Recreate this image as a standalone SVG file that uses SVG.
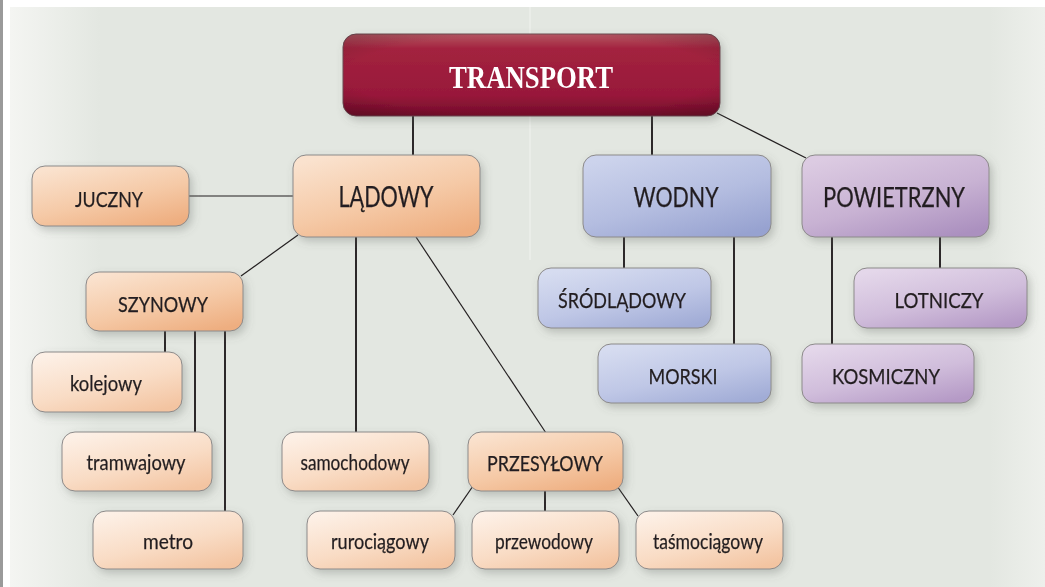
<svg xmlns="http://www.w3.org/2000/svg" width="1045" height="587" viewBox="0 0 1045 587">
<style>
.t{font-family:Lato,"Liberation Sans",sans-serif;fill:#231f20;stroke:#231f20;stroke-width:0.25;text-anchor:middle}
.box{stroke:#8c8a8a;stroke-width:1}
.v{stroke:#231f20;stroke-width:1.9;fill:none}
.d{stroke:#231f20;stroke-width:1.2;fill:none}
</style>
<defs>
<linearGradient id="bgL" x1="0" y1="0" x2="1" y2="0">
<stop offset="0" stop-color="#f4f5f2"/><stop offset="1" stop-color="#e3e7e1"/>
</linearGradient>
<linearGradient id="bgR" x1="0" y1="0" x2="1" y2="0">
<stop offset="0" stop-color="#e3e7e1"/><stop offset="1" stop-color="#eef0ec"/>
</linearGradient>
<linearGradient id="gRed" x1="0" y1="0" x2="0" y2="1">
<stop offset="0" stop-color="#b45662"/><stop offset="0.18" stop-color="#a3233f"/><stop offset="0.75" stop-color="#98183a"/><stop offset="1" stop-color="#720c2a"/>
</linearGradient>
<radialGradient id="gRedEdge" cx="0.5" cy="0.5" r="0.7">
<stop offset="0.7" stop-color="#000" stop-opacity="0"/><stop offset="1" stop-color="#000" stop-opacity="0.18"/>
</radialGradient>
<linearGradient id="gO1" x1="0.2" y1="0" x2="0.8" y2="1">
<stop offset="0" stop-color="#fae2ce"/><stop offset="0.55" stop-color="#f5c9a6"/><stop offset="1" stop-color="#eeae80"/>
</linearGradient>
<linearGradient id="gO2" x1="0.2" y1="0" x2="0.8" y2="1">
<stop offset="0" stop-color="#fdf0e6"/><stop offset="0.55" stop-color="#f9dcc5"/><stop offset="1" stop-color="#f3c4a1"/>
</linearGradient>
<linearGradient id="gB1" x1="0.2" y1="0" x2="0.8" y2="1">
<stop offset="0" stop-color="#ccd3ec"/><stop offset="0.55" stop-color="#b4bde0"/><stop offset="1" stop-color="#97a2d0"/>
</linearGradient>
<linearGradient id="gB2" x1="0.2" y1="0" x2="0.8" y2="1">
<stop offset="0" stop-color="#d6dcf0"/><stop offset="0.55" stop-color="#bfc7e6"/><stop offset="1" stop-color="#a1acd6"/>
</linearGradient>
<linearGradient id="gP1" x1="0.2" y1="0" x2="0.8" y2="1">
<stop offset="0" stop-color="#dccbe2"/><stop offset="0.55" stop-color="#c8b2d3"/><stop offset="1" stop-color="#ab90bf"/>
</linearGradient>
<linearGradient id="gP2" x1="0.2" y1="0" x2="0.8" y2="1">
<stop offset="0" stop-color="#e4d7ea"/><stop offset="0.55" stop-color="#d0bddb"/><stop offset="1" stop-color="#b59ac6"/>
</linearGradient>
<filter id="sh" x="-20%" y="-20%" width="150%" height="160%">
<feDropShadow dx="3" dy="4" stdDeviation="4" flood-color="#5a6058" flood-opacity="0.3"/>
</filter>
</defs>

<rect x="0" y="0" width="1045" height="587" fill="#ffffff"/>
<rect x="0" y="0" width="3" height="587" fill="#9a9a9a"/>
<rect x="10" y="7" width="1035" height="580" fill="#e3e7e1"/>
<rect x="10" y="7" width="90" height="580" fill="url(#bgL)"/>
<rect x="990" y="7" width="55" height="580" fill="url(#bgR)"/>
<line x1="530" y1="7" x2="530" y2="260" stroke="#ffffff" stroke-opacity="0.35" stroke-width="1.5"/>

<g id="connectors">
<line class="v" x1="413" y1="116" x2="413" y2="156"/>
<line class="v" x1="652" y1="116" x2="652" y2="156"/>
<line class="d" x1="717" y1="113" x2="806" y2="158"/>
<line class="d" x1="189" y1="196" x2="293" y2="196"/>
<line class="d" x1="298" y1="235" x2="241" y2="276"/>
<line class="v" x1="356" y1="237" x2="356" y2="433"/>
<line class="d" x1="416" y1="237" x2="546" y2="433"/>
<line class="v" x1="165" y1="331" x2="165" y2="353"/>
<line class="v" x1="195" y1="331" x2="195" y2="433"/>
<line class="v" x1="225" y1="331" x2="225" y2="512"/>
<line class="d" x1="473" y1="486" x2="453" y2="515"/>
<line class="v" x1="545" y1="491" x2="545" y2="512"/>
<line class="d" x1="617" y1="486" x2="638" y2="516"/>
<line class="v" x1="624" y1="237" x2="624" y2="269"/>
<line class="v" x1="734" y1="237" x2="734" y2="345"/>
<line class="v" x1="832" y1="237" x2="832" y2="345"/>
<line class="v" x1="940" y1="237" x2="940" y2="269"/>
</g>

<g id="transport" filter="url(#sh)">
<rect x="343" y="34" width="377" height="82" rx="13" fill="url(#gRed)" stroke="#6e4a52" stroke-width="1"/>
<rect x="343" y="34" width="377" height="82" rx="13" fill="url(#gRedEdge)"/>
<text x="531" y="88" font-family="'Liberation Serif',serif" font-weight="bold" font-size="32" fill="#ffffff" text-anchor="middle" textLength="164" lengthAdjust="spacingAndGlyphs">TRANSPORT</text>
</g>

<g id="ladowy" filter="url(#sh)">
<rect class="box" x="293" y="155" width="187" height="82" rx="13" fill="url(#gO1)"/>
<text class="t" x="386" y="207" font-size="28" textLength="95" lengthAdjust="spacingAndGlyphs">LĄDOWY</text>
</g>
<g id="juczny" filter="url(#sh)">
<rect class="box" x="32" y="166" width="157" height="60" rx="13" fill="url(#gO1)"/>
<text class="t" x="109" y="207" font-size="22" textLength="68" lengthAdjust="spacingAndGlyphs">JUCZNY</text>
</g>
<g id="szynowy" filter="url(#sh)">
<rect class="box" x="86" y="272" width="157" height="59" rx="13" fill="url(#gO1)"/>
<text class="t" x="163" y="312" font-size="22" textLength="90" lengthAdjust="spacingAndGlyphs">SZYNOWY</text>
</g>
<g id="kolejowy" filter="url(#sh)">
<rect class="box" x="32" y="352" width="150" height="60" rx="13" fill="url(#gO2)"/>
<text class="t" x="106" y="391" font-size="22" textLength="72" lengthAdjust="spacingAndGlyphs">kolejowy</text>
</g>
<g id="tramwajowy" filter="url(#sh)">
<rect class="box" x="62" y="432" width="150" height="59" rx="13" fill="url(#gO2)"/>
<text class="t" x="136" y="470" font-size="22" textLength="99" lengthAdjust="spacingAndGlyphs">tramwajowy</text>
</g>
<g id="metro" filter="url(#sh)">
<rect class="box" x="93" y="511" width="150" height="58" rx="13" fill="url(#gO2)"/>
<text class="t" x="168" y="549" font-size="22" textLength="50" lengthAdjust="spacingAndGlyphs">metro</text>
</g>
<g id="samochodowy" filter="url(#sh)">
<rect class="box" x="282" y="432" width="147" height="59" rx="13" fill="url(#gO2)"/>
<text class="t" x="355" y="470" font-size="22" textLength="109" lengthAdjust="spacingAndGlyphs">samochodowy</text>
</g>
<g id="przesylowy" filter="url(#sh)">
<rect class="box" x="468" y="432" width="155" height="59" rx="13" fill="url(#gO1)"/>
<text class="t" x="545" y="471" font-size="22" textLength="116" lengthAdjust="spacingAndGlyphs">PRZESYŁOWY</text>
</g>
<g id="rurociagowy" filter="url(#sh)">
<rect class="box" x="307" y="511" width="148" height="58" rx="13" fill="url(#gO2)"/>
<text class="t" x="380" y="549" font-size="22" textLength="98" lengthAdjust="spacingAndGlyphs">rurociągowy</text>
</g>
<g id="przewodowy" filter="url(#sh)">
<rect class="box" x="472" y="511" width="147" height="58" rx="13" fill="url(#gO2)"/>
<text class="t" x="544" y="549" font-size="22" textLength="98" lengthAdjust="spacingAndGlyphs">przewodowy</text>
</g>
<g id="tasmociagowy" filter="url(#sh)">
<rect class="box" x="636" y="511" width="147" height="58" rx="13" fill="url(#gO2)"/>
<text class="t" x="708" y="549" font-size="22" textLength="110" lengthAdjust="spacingAndGlyphs">taśmociągowy</text>
</g>

<g id="wodny" filter="url(#sh)">
<rect class="box" x="583" y="155" width="188" height="82" rx="13" fill="url(#gB1)"/>
<text class="t" x="676" y="207" font-size="27" textLength="85" lengthAdjust="spacingAndGlyphs">WODNY</text>
</g>
<g id="srodladowy" filter="url(#sh)">
<rect class="box" x="538" y="268" width="173" height="60" rx="13" fill="url(#gB2)"/>
<text class="t" x="622" y="308" font-size="22" textLength="128" lengthAdjust="spacingAndGlyphs">ŚRÓDLĄDOWY</text>
</g>
<g id="morski" filter="url(#sh)">
<rect class="box" x="598" y="344" width="173" height="59" rx="13" fill="url(#gB2)"/>
<text class="t" x="683" y="384" font-size="22" textLength="69" lengthAdjust="spacingAndGlyphs">MORSKI</text>
</g>

<g id="powietrzny" filter="url(#sh)">
<rect class="box" x="802" y="155" width="187" height="82" rx="13" fill="url(#gP1)"/>
<text class="t" x="894" y="207" font-size="27" textLength="142" lengthAdjust="spacingAndGlyphs">POWIETRZNY</text>
</g>
<g id="lotniczy" filter="url(#sh)">
<rect class="box" x="854" y="268" width="173" height="60" rx="13" fill="url(#gP2)"/>
<text class="t" x="939" y="308" font-size="22" textLength="89" lengthAdjust="spacingAndGlyphs">LOTNICZY</text>
</g>
<g id="kosmiczny" filter="url(#sh)">
<rect class="box" x="802" y="344" width="172" height="59" rx="13" fill="url(#gP2)"/>
<text class="t" x="886" y="384" font-size="22" textLength="108" lengthAdjust="spacingAndGlyphs">KOSMICZNY</text>
</g>
</svg>
